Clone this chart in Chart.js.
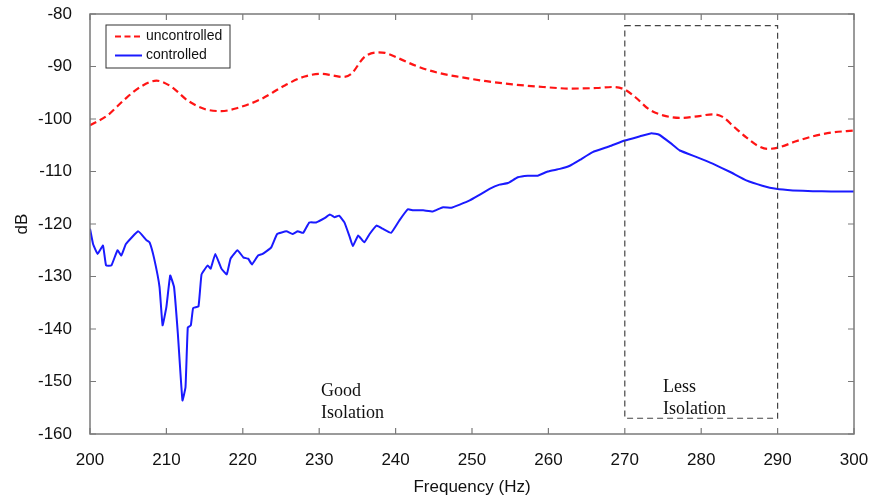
<!DOCTYPE html>
<html>
<head>
<meta charset="utf-8">
<script src="https://cdn.jsdelivr.net/npm/chart.js@4/dist/chart.umd.min.js"></script>
<style>
  html, body { margin: 0; padding: 0; background: #fff; }
  #wrap { width: 872px; height: 498px; }
</style>
</head>
<body>
<div id="wrap"><canvas id="plot" width="872" height="498"></canvas></div>
<script>
// uncontrolled response (dB) vs frequency (Hz)
const freqUnc = [200, 202.3, 204.5, 206.7, 208.7, 210.6, 212.8, 215, 217.2, 219.3, 222.4, 225.5,
  228.1, 230.3, 231.8, 233.1, 234.2, 235.9, 237.7, 238.6, 240.5, 242.7, 245.3, 248.4, 251.9,
  255.3, 259.3, 262.8, 266.3, 268.4, 270, 271.5, 273.2, 275, 277.2, 279.5, 281.5, 282.8, 284.3,
  285.9, 287.3, 288.7, 290.2, 292.3, 294.6, 297, 300];
const dbUnc = [-101.2, -99.3, -96.3, -93.8, -92.7, -93.8, -96.5, -98.1, -98.5, -97.9, -96.2, -93.6,
  -91.9, -91.4, -91.7, -92.0, -91.4, -88.2, -87.3, -87.4, -88.5, -89.9, -91.1, -92.0, -92.8,
  -93.4, -93.9, -94.2, -94.1, -93.9, -94.4, -96.0, -98.2, -99.3, -99.8, -99.5, -99.1, -99.6, -101.5,
  -103.5, -105.0, -105.7, -105.4, -104.3, -103.3, -102.6, -102.2];

// controlled response
const freqCtl = [200, 200.4, 201, 201.7, 202.1, 202.8, 203.6, 204.1, 204.7, 206.3, 207.4, 207.8,
  208.4, 209.1, 209.5, 210, 210.5, 211, 211.5, 212.1, 212.5, 212.8, 213.2, 213.5, 214.2, 214.6,
  215.4, 215.8, 216.4, 217.2, 217.9, 218.4, 219.3, 220.1, 220.7, 221.2, 222, 222.6, 223.7, 224.5,
  225.7, 226.5, 227.2, 227.9, 228.7, 229.6, 230.7, 231.4, 232, 232.6, 233.3, 234, 234.4, 235.1,
  235.9, 236.6, 237.5, 238.3, 239.4, 240.5, 241.6, 242.3, 243.6, 244.9, 246.2, 247.3, 248.4,
  249.7, 250.8, 252.3, 253.6, 254.7, 256, 257.3, 258.6, 259.9, 261.5, 262.8, 264.1, 265.8, 268,
  270, 272, 273.5, 274.5, 276, 277.2, 279.5, 281.5, 283.8, 285.9, 288, 289.8, 292, 294.6, 297, 300];
const dbCtl = [-120.9, -123.8, -125.7, -124.1, -127.9, -127.9, -125.0, -126.0, -123.8, -121.4, -123.1, -123.5,
  -126.6, -132.0, -139.3, -135.8, -129.8, -132.0, -140.9, -153.6, -151.1, -139.7, -139.3, -136.0, -135.7, -129.6,
  -127.9, -128.5, -125.7, -128.5, -129.6, -126.6, -125.0, -126.4, -126.6, -127.7, -126.0, -125.7, -124.5, -121.9,
  -121.4, -121.9, -121.4, -121.7, -119.7, -119.7, -118.9, -118.2, -118.7, -118.4, -119.7, -122.5, -124.2, -122.2,
  -123.5, -121.9, -120.3, -120.9, -121.7, -119.3, -117.2, -117.4, -117.4, -117.6, -116.8, -116.9, -116.3,
  -115.5, -114.6, -113.3, -112.5, -112.2, -111.1, -110.8, -110.8, -110.0, -109.5, -108.9, -107.8, -106.3, -105.2,
  -104.1, -103.3, -102.7, -103.0, -104.6, -106.0, -107.3, -108.5, -110.1, -111.7, -112.7, -113.3, -113.6, -113.75, -113.8, -113.8];

const xTicks = [200, 210, 220, 230, 240, 250, 260, 270, 280, 290, 300];
const yTicks = [-80, -90, -100, -110, -120, -130, -140, -150, -160];

// "less isolation" band
const bandFreq = [270, 290];
const bandDb = [-82.2, -157];

const RED = '#ff1414';
const BLUE = '#1a1aff';
const AXIS = '#7a7a7a';
const SANS = '"Liberation Sans", Arial, sans-serif';
const SERIF = '"Liberation Serif", "Times New Roman", serif';

const toPoints = (xs, ys) => xs.map((x, i) => ({ x, y: ys[i] }));

// frame, inward ticks, band box, notes and legend
const decorations = {
  id: 'decorations',
  afterDatasetsDraw(chart) {
    const { ctx, chartArea: a, scales: { x, y } } = chart;
    ctx.save();

    // dashed band
    ctx.strokeStyle = '#444';
    ctx.lineWidth = 1.2;
    ctx.setLineDash([6, 4]);
    const bx0 = x.getPixelForValue(bandFreq[0]), bx1 = x.getPixelForValue(bandFreq[1]);
    const by0 = y.getPixelForValue(bandDb[0]), by1 = y.getPixelForValue(bandDb[1]);
    ctx.strokeRect(bx0, by0, bx1 - bx0, by1 - by0);
    ctx.setLineDash([]);

    // frame
    ctx.strokeStyle = AXIS;
    ctx.lineWidth = 1.5;
    ctx.strokeRect(a.left, a.top, a.right - a.left, a.bottom - a.top);

    // ticks pointing into the plot on all four sides
    ctx.lineWidth = 1.2;
    ctx.beginPath();
    xTicks.forEach(v => {
      const px = x.getPixelForValue(v);
      ctx.moveTo(px, a.bottom); ctx.lineTo(px, a.bottom - 6);
      ctx.moveTo(px, a.top); ctx.lineTo(px, a.top + 6);
    });
    yTicks.forEach(v => {
      const py = y.getPixelForValue(v);
      ctx.moveTo(a.left, py); ctx.lineTo(a.left + 6, py);
      ctx.moveTo(a.right, py); ctx.lineTo(a.right - 6, py);
    });
    ctx.stroke();

    // notes
    ctx.fillStyle = '#111';
    ctx.font = '18px ' + SERIF;
    ctx.textAlign = 'left';
    ctx.textBaseline = 'middle';
    ctx.fillText('Good', 321, 391);
    ctx.fillText('Isolation', 321, 413);
    ctx.fillText('Less', 663, 387);
    ctx.fillText('Isolation', 663, 409);

    // legend
    const lx = 106, ly = 25, lw = 124, lh = 43;
    ctx.fillStyle = '#fff';
    ctx.fillRect(lx, ly, lw, lh);
    ctx.strokeStyle = '#333';
    ctx.lineWidth = 1;
    ctx.strokeRect(lx, ly, lw, lh);
    const rows = [
      { label: 'uncontrolled', color: RED, dash: [6, 3.5], yy: ly + 11.5 },
      { label: 'controlled', color: BLUE, dash: [], yy: ly + 30.5 }
    ];
    rows.forEach(r => {
      ctx.strokeStyle = r.color;
      ctx.lineWidth = 2;
      ctx.setLineDash(r.dash);
      ctx.beginPath();
      ctx.moveTo(lx + 9, r.yy); ctx.lineTo(lx + 36, r.yy);
      ctx.stroke();
      ctx.setLineDash([]);
      ctx.fillStyle = '#111';
      ctx.font = '14px ' + SANS;
      ctx.fillText(r.label, lx + 40, r.yy);
    });

    ctx.restore();
  }
};

new Chart(document.getElementById('plot'), {
  type: 'line',
  data: {
    datasets: [
      {
        label: 'uncontrolled',
        data: toPoints(freqUnc, dbUnc),
        borderColor: RED,
        borderWidth: 2.2,
        borderDash: [7, 4],
        pointRadius: 0,
        tension: 0.4,
        cubicInterpolationMode: 'monotone',
        fill: false
      },
      {
        label: 'controlled',
        data: toPoints(freqCtl, dbCtl),
        borderColor: BLUE,
        borderWidth: 2,
        pointRadius: 0,
        tension: 0.1,
        fill: false
      }
    ]
  },
  options: {
    responsive: false,
    animation: false,
    layout: { padding: { top: 14, right: 18, left: 0, bottom: 0 } },
    plugins: { legend: { display: false }, tooltip: { enabled: false } },
    scales: {
      x: {
        type: 'linear',
        min: 200,
        max: 300,
        afterBuildTicks: s => { s.ticks = xTicks.map(v => ({ value: v })); },
        afterFit: s => { s.height = 64; s.paddingLeft = 0; s.paddingRight = 0; },
        grid: { display: false },
        border: { display: false },
        ticks: { color: '#111', font: { family: SANS, size: 17 }, padding: 8 },
        title: {
          display: true,
          text: 'Frequency (Hz)',
          color: '#111',
          font: { family: SANS, size: 17 },
          padding: { top: 4, bottom: 0 }
        }
      },
      y: {
        min: -160,
        max: -80,
        afterBuildTicks: s => { s.ticks = yTicks.map(v => ({ value: v })); },
        afterFit: s => { s.width = 90; s.paddingTop = 0; s.paddingBottom = 0; },
        grid: { display: false },
        border: { display: false },
        ticks: { color: '#111', font: { family: SANS, size: 17 }, padding: 10 },
        title: {
          display: true,
          text: 'dB',
          color: '#111',
          font: { family: SANS, size: 17 },
          padding: { top: 12, bottom: 0 }
        }
      }
    }
  },
  plugins: [decorations]
});
</script>
</body>
</html>
